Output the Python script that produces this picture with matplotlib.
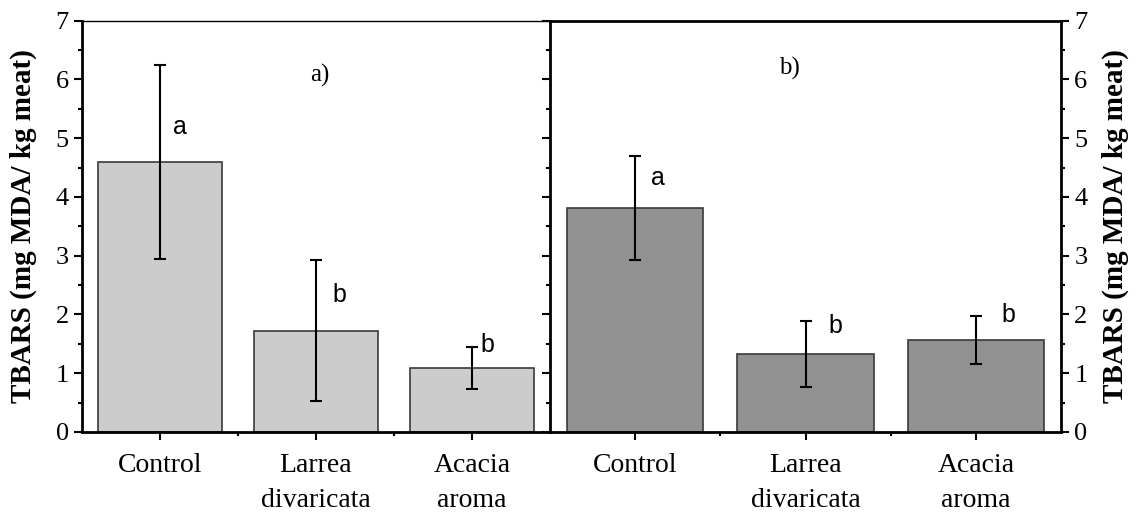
import matplotlib
matplotlib.use("Agg")
import matplotlib.pyplot as plt
from matplotlib.ticker import MultipleLocator, FixedLocator
import numpy as np

categories = ["Control", "Larrea\ndivaricata", "Acacia\naroma"]
means_a = [4.59, 1.72, 1.09]
errs_a = [1.65, 1.20, 0.36]
letters_a = ["a", "b", "b"]
letter_y_a = [5.08, 2.21, 1.36]
letter_dx_a = [0.128, 0.147, 0.10]
means_b = [3.81, 1.33, 1.57]
errs_b = [0.89, 0.56, 0.41]
letters_b = ["a", "b", "b"]
letter_y_b = [4.20, 1.68, 1.87]
letter_dx_b = [0.135, 0.176, 0.19]
panel_labels = ["a)", "b)"]
ylabel = "TBARS (mg MDA/ kg meat)"

serif = "Liberation Serif"
sans = "Liberation Sans"
plt.rcParams["font.family"] = [serif, "DejaVu Serif"]

fig = plt.figure(figsize=(11.4, 5.15), dpi=100)
H = 515.0
W = 1140.0
bottom = 1 - 432 / H
top = 1 - 20.7 / H
axA = fig.add_axes([82 / W, bottom, (550 - 82) / W, top - bottom])
axB = fig.add_axes([550 / W, bottom, (1061 - 550) / W, top - bottom])

x = np.arange(len(categories))

def style(ax, fill, means, errs, letters, ly, ldx):
    ax.bar(x, means, width=0.8, color=fill, edgecolor="#3a3a3a", linewidth=1.2, zorder=2)
    ax.errorbar(x, means, yerr=errs, fmt="none", ecolor="black", elinewidth=1.5,
                capsize=4, capthick=1.5, zorder=3)
    for xi, l, yy, dx in zip(x, letters, ly, ldx):
        ax.text(xi + dx, yy, l, fontfamily=sans, fontsize=18, ha="center", va="baseline")
    ax.set_xlim(-0.5, 2.5)
    ax.set_ylim(0, 7)
    ax.set_xticks(x)
    ax.set_xticklabels(categories, fontfamily=serif, fontsize=20, linespacing=1.55)
    ax.xaxis.set_minor_locator(FixedLocator([0.5, 1.5]))
    ax.yaxis.set_major_locator(MultipleLocator(1))
    ax.yaxis.set_minor_locator(MultipleLocator(0.5))
    ax.tick_params(axis="x", which="major", direction="out", length=6, width=1.5, pad=9)
    ax.tick_params(axis="x", which="minor", direction="out", length=3, width=1.5)

style(axA, "#cccccc", means_a, errs_a, letters_a, letter_y_a, letter_dx_a)
style(axB, "#919191", means_b, errs_b, letters_b, letter_y_b, letter_dx_b)

# panel A
axA.tick_params(axis="y", which="both", left=True, right=False, direction="out",
                labelsize=19, width=1.5)
axA.tick_params(axis="y", which="major", length=6)
axA.tick_params(axis="y", which="minor", length=3)
for s in ["left", "bottom"]:
    axA.spines[s].set_linewidth(2)
axA.spines["top"].set_linewidth(1)
axA.spines["right"].set_visible(False)
axA.set_ylabel(ylabel, fontfamily=serif, fontsize=21, fontweight="bold", labelpad=13)

# panel B
axB.tick_params(axis="y", which="both", left=True, right=True, labelleft=False,
                labelright=True, direction="out", labelsize=19, width=1.5)
axB.tick_params(axis="y", which="major", length=6)
axB.tick_params(axis="y", which="minor", length=3)
for s in ["left", "bottom", "top", "right"]:
    axB.spines[s].set_linewidth(2)
axB.yaxis.set_label_position("right")
axB.set_ylabel(ylabel, fontfamily=serif, fontsize=21, fontweight="bold", labelpad=10)

axA.text(0.509, 0.851, panel_labels[0], transform=axA.transAxes, fontfamily=serif,
         fontsize=18, ha="center", va="baseline")
axB.text(0.468, 0.868, panel_labels[1], transform=axB.transAxes, fontfamily=serif,
         fontsize=18, ha="center", va="baseline")

fig.savefig("out.png", dpi=100)
